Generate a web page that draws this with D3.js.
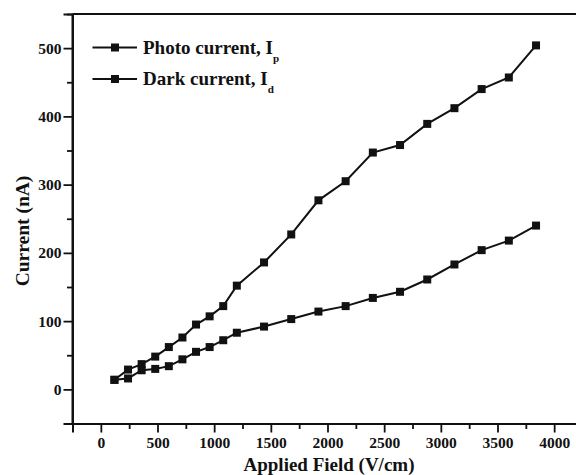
<!DOCTYPE html>
<html>
<head>
<meta charset="utf-8">
<script src="https://cdn.jsdelivr.net/npm/d3@7"></script>
<style>
  html, body { margin: 0; padding: 0; background: #fff; }
  svg { display: block; }
  text { font-family: "Liberation Serif", "Times New Roman", serif; font-weight: bold; fill: #111; }
</style>
</head>
<body>
<svg id="chart" width="576" height="475"></svg>
<script>
// Applied field (V/cm) at each measurement
const field = [120, 240, 360, 480, 600, 720, 840, 960, 1080, 1200, 1440, 1680, 1920, 2160, 2400, 2640, 2880, 3120, 3360, 3600, 3840];
// Photo current under illumination (nA)
const photoCurrent = [14, 29, 37, 48, 62, 76, 95, 107, 122, 152, 186, 227, 277, 305, 347, 358, 389, 412, 440, 457, 504];
// Dark current (nA)
const darkCurrent = [14, 16, 28, 30, 34, 44, 55, 62, 72, 83, 92, 103, 114, 122, 134, 143, 161, 183, 204, 218, 240];

const xTicks = [0, 500, 1000, 1500, 2000, 2500, 3000, 3500, 4000];
const yTicks = [0, 100, 200, 300, 400, 500];

const seriesNames = ["Photo current, I", "Dark current, I"];
const seriesSubs = ["p", "d"];

const svg = d3.select("#chart");

const x = d3.scaleLinear().domain([-250, 4250]).range([72.5, 582.5]);
const y = d3.scaleLinear().domain([-50, 550]).range([423.5, 14]);

// Axis frame
const frame = svg.append("g").attr("stroke", "#111").attr("stroke-width", 2).attr("fill", "none");
frame.append("line").attr("x1", x(-250)).attr("x2", x(4250)).attr("y1", y(550)).attr("y2", y(550));
frame.append("line").attr("x1", x(-250)).attr("x2", x(-250)).attr("y1", y(550)).attr("y2", y(-50));

// Bottom axis with major and minor ticks
const xMinor = d3.range(-250, 4251, 500);
const gx = svg.append("g").attr("transform", `translate(0,${y(-50)})`)
  .call(d3.axisBottom(x).tickValues(xTicks).tickSize(9).tickPadding(4).tickFormat(d3.format("d")));
const gxm = svg.append("g").attr("transform", `translate(0,${y(-50)})`)
  .call(d3.axisBottom(x).tickValues(xMinor).tickSize(5.5).tickFormat(""));
gxm.select(".domain").remove();

// Left axis with major and minor ticks
const yMinor = d3.range(-50, 551, 100);
const gy = svg.append("g").attr("transform", `translate(${x(-250)},0)`)
  .call(d3.axisLeft(y).tickValues(yTicks).tickSize(9).tickPadding(2).tickFormat(d3.format("d")));
const gym = svg.append("g").attr("transform", `translate(${x(-250)},0)`)
  .call(d3.axisLeft(y).tickValues(yMinor).tickSize(5.5).tickFormat(""));
gym.select(".domain").remove();

[gx, gy, gxm, gym].forEach(g => {
  g.selectAll(".domain").attr("stroke", "#111").attr("stroke-width", 2);
  g.selectAll(".tick line").attr("stroke", "#111").attr("stroke-width", 1.8);
  g.selectAll(".tick text").style("font-family", '"Liberation Serif", serif')
    .style("font-weight", "bold").style("font-size", "15.5px").attr("fill", "#111");
});

// Axis titles
svg.append("text").attr("x", 329).attr("y", 471).attr("text-anchor", "middle")
  .style("font-size", "19px").text("Applied Field (V/cm)");
svg.append("text").attr("transform", `translate(29,231) rotate(-90)`).attr("text-anchor", "middle")
  .style("font-size", "19.5px").text("Current (nA)");

// Data series
const line = d3.line().x(d => x(d[0])).y(d => y(d[1]));
const series = [photoCurrent, darkCurrent].map(vals => field.map((f, i) => [f, vals[i]]));

series.forEach(pts => {
  svg.append("path").datum(pts).attr("d", line)
    .attr("fill", "none").attr("stroke", "#111").attr("stroke-width", 2);
  svg.append("g").selectAll("rect").data(pts).join("rect")
    .attr("x", d => x(d[0]) - 4).attr("y", d => y(d[1]) - 4)
    .attr("width", 8).attr("height", 8).attr("fill", "#111");
});

// Legend
const legend = svg.append("g");
seriesNames.forEach((name, i) => {
  const cy = 47.5 + i * 31.5;
  legend.append("line").attr("x1", 92.5).attr("x2", 137).attr("y1", cy).attr("y2", cy)
    .attr("stroke", "#111").attr("stroke-width", 2);
  legend.append("rect").attr("x", 111).attr("y", cy - 4).attr("width", 8).attr("height", 8).attr("fill", "#111");
  const t = legend.append("text").attr("x", 143).attr("y", cy + 6).style("font-size", "19px");
  t.append("tspan").text(name);
  t.append("tspan").attr("dy", 8).style("font-size", "11px").text(seriesSubs[i]);
});
</script>
</body>
</html>
